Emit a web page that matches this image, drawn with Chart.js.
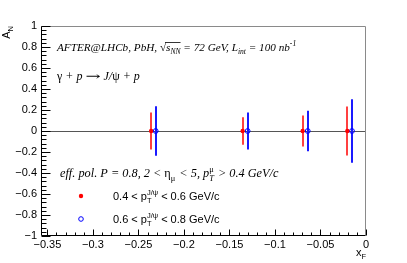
<!DOCTYPE html>
<html>
<head>
<meta charset="utf-8">
<script src="https://cdn.jsdelivr.net/npm/chart.js@4/dist/chart.umd.min.js"></script>
<style>
html,body{margin:0;padding:0;background:#fff;}
canvas{display:block;}
</style>
</head>
<body>
<canvas id="c" width="407" height="263"></canvas>
<script>
// ---- data ----
const xRed = [-0.236, -0.1355, -0.0696, -0.0205];
const yRed = [0, 0, 0, 0];
const errRed = [0.176, 0.130, 0.147, 0.234];
const xBlue = [-0.231, -0.130, -0.064, -0.0154];
const yBlue = [0, 0, 0, 0];
const errBlue = [0.235, 0.176, 0.192, 0.302];
const xTicks = [-0.35, -0.3, -0.25, -0.2, -0.15, -0.1, -0.05, 0];
const yTicks = [-1, -0.8, -0.6, -0.4, -0.2, 0, 0.2, 0.4, 0.6, 0.8, 1];
const xRange = [-0.357, 0];
const yRange = [-1, 1];
const seriesLabels = ['0.4 < p_T^J/ψ < 0.6 GeV/c', '0.6 < p_T^J/ψ < 0.8 GeV/c'];

function fmt(v){
  const s = String(Number(v.toFixed(3)));
  return s.replace('-', '\u2212');
}

const SERIF = '"Liberation Serif", "DejaVu Serif", serif';
const SANS = '"Liberation Sans", Arial, sans-serif';

// rich text: parts {t, s:'sub'|'sup'|'' , it:bool, stack:bool, f:family, gap:px, sx:hscale}
function drawRich(ctx, x, y, parts, size, family, defItalic){
  let cx = x;
  let stackW = 0;
  const pos = [];
  for (const p of parts){
    const sz = (p.sz || (p.s ? size*0.68 : size));
    const it = (p.it === undefined) ? defItalic : p.it;
    ctx.font = (it ? 'italic ' : '') + sz + 'px ' + (p.f || family);
    const dy = (p.dy !== undefined ? p.dy : 0) + (p.s === 'sub' ? size*0.3 : (p.s === 'sup' ? -size*0.42 : 0));
    if (p.pre) cx += p.pre;
    const sx = p.sx || 1;
    ctx.save();
    ctx.translate(cx, y + dy);
    ctx.scale(sx, 1);
    ctx.fillText(p.t, 0, 0);
    ctx.restore();
    const w = ctx.measureText(p.t).width * sx;
    pos.push({x0: cx, x1: cx + w});
    if (p.stack){ stackW = Math.max(stackW, w); }
    else { cx += Math.max(w, stackW) + (p.gap || 0); stackW = 0; }
  }
  return pos;
}

const decor = {
  id: 'decor',
  beforeDraw(chart){
    const ctx = chart.ctx;
    ctx.save();
    ctx.fillStyle = '#fff';
    ctx.fillRect(0,0,chart.width,chart.height);
    ctx.restore();
  },
  beforeDatasetsDraw(chart){
    const ctx = chart.ctx, xs = chart.scales.x, ys = chart.scales.y, a = chart.chartArea;
    ctx.save();
    const y0 = Math.round(ys.getPixelForValue(0)) + 0.5;
    ctx.strokeStyle = '#555';
    ctx.lineWidth = 1;
    ctx.beginPath(); ctx.moveTo(a.left, y0); ctx.lineTo(a.right, y0); ctx.stroke();
    const bars = (xv, yv, ev, col) => {
      ctx.strokeStyle = col; ctx.lineWidth = 2;
      for (let i=0;i<xv.length;i++){
        const px = Math.round(xs.getPixelForValue(xv[i]));
        ctx.beginPath();
        ctx.moveTo(px, ys.getPixelForValue(yv[i]+ev[i]));
        ctx.lineTo(px, ys.getPixelForValue(yv[i]-ev[i]));
        ctx.stroke();
      }
    };
    bars(xRed, yRed, errRed, 'rgba(255,30,30,0.85)');
    bars(xBlue, yBlue, errBlue, '#1a1aff');
    ctx.restore();
  },
  afterDraw(chart){
    const ctx = chart.ctx, xs = chart.scales.x, ys = chart.scales.y, a = chart.chartArea;
    ctx.save();
    const L = a.left + 0.5, R = a.right - 0.5, T = a.top + 0.5, B = a.bottom - 0.5;
    ctx.lineWidth = 1;
    ctx.strokeStyle = '#8a8a8a';
    ctx.beginPath(); ctx.moveTo(L, T); ctx.lineTo(R, T); ctx.lineTo(R, B); ctx.stroke();
    ctx.strokeStyle = '#000';
    ctx.beginPath(); ctx.moveTo(L, T); ctx.lineTo(L, B); ctx.lineTo(R, B); ctx.stroke();
    ctx.beginPath();
    for (let i=0;i<yTicks.length;i++){
      const py = Math.round(ys.getPixelForValue(yTicks[i])) + 0.5;
      ctx.moveTo(L, py); ctx.lineTo(L + 9, py);
      if (i < yTicks.length-1){
        const st = (yTicks[i+1]-yTicks[i])/5;
        for (let k=1;k<5;k++){
          const my = Math.round(ys.getPixelForValue(yTicks[i]+k*st)) + 0.5;
          ctx.moveTo(L, my); ctx.lineTo(L + 5, my);
        }
      }
    }
    for (let i=0;i<xTicks.length;i++){
      const px = Math.round(xs.getPixelForValue(xTicks[i])) + 0.5;
      ctx.moveTo(px, B); ctx.lineTo(px, B - 6);
      if (i < xTicks.length-1){
        const st = (xTicks[i+1]-xTicks[i])/5;
        for (let k=1;k<5;k++){
          const mx = Math.round(xs.getPixelForValue(xTicks[i]+k*st)) + 0.5;
          ctx.moveTo(mx, B); ctx.lineTo(mx, B - 3);
        }
      }
    }
    ctx.stroke();

    // axis titles
    ctx.fillStyle = '#000';
    ctx.textBaseline = 'alphabetic';
    ctx.save();
    ctx.translate(10, 26);
    ctx.rotate(-Math.PI/2);
    ctx.textAlign = 'left';
    ctx.font = '7.5px ' + SANS;
    const wN = ctx.measureText('N').width;
    ctx.font = '11px ' + SANS;
    const wA = ctx.measureText('A').width;
    drawRich(ctx, -(wA + wN), 0, [{t:'A'},{t:'N', s:'sub'}], 11, SANS, false);
    ctx.restore();
    {
      ctx.font = '11px ' + SANS;
      const wx = ctx.measureText('x').width;
      ctx.font = '7.5px ' + SANS;
      const wF = ctx.measureText('F').width;
      drawRich(ctx, a.right - wx - wF, 256, [{t:'x'},{t:'F', s:'sub'}], 11, SANS, false);
    }

    // annotations (serif italic)
    const p1 = drawRich(ctx, 57, 51, [
      {t:'AFTER@LHCb, PbH, '},
      {t:'\u221A', it:false},
      {t:'s'},
      {t:'NN', s:'sub'},
      {t:' = 72 GeV, L'},
      {t:'int', s:'sub'},
      {t:' = 100 nb'},
      {t:'-1', s:'sup'}
    ], 11.2, SERIF, true);
    ctx.strokeStyle = '#000'; ctx.lineWidth = 0.8;
    ctx.beginPath(); ctx.moveTo(p1[1].x1 - 1, 42.5); ctx.lineTo(p1[3].x1, 42.5); ctx.stroke();

    drawRich(ctx, 57, 80, [
      {t:'\u03B3', it:false},
      {t:' + p '},
      {t:'\u2192', it:false, f:'"DejaVu Serif"', sz:12, sx:1.5, dy:-0.5},
      {t:' J/'},
      {t:'\u03C8', it:false},
      {t:' + p'}
    ], 12, SERIF, true);

    drawRich(ctx, 60, 177, [
      {t:'eff. pol. P = 0.8, 2 < '},
      {t:'\u03B7', it:false},
      {t:'\u03BC', s:'sub', it:false, gap:1},
      {t:' < 5, p'},
      {t:'\u03BC', s:'sup', it:false, stack:true},
      {t:'T', s:'sub', gap:1},
      {t:' > 0.4 GeV/c'}
    ], 12.3, SERIF, true);

    // legend
    const legY = [196, 219];
    const ranges = [['0.4','0.6'],['0.6','0.8']];
    for (let i=0;i<2;i++){
      ctx.beginPath();
      if (i===0){
        ctx.fillStyle = 'red';
        ctx.arc(81, legY[i], 2.2, 0, Math.PI*2); ctx.fill();
      } else {
        ctx.strokeStyle = 'blue'; ctx.lineWidth = 1;
        ctx.arc(81, legY[i], 2.3, 0, Math.PI*2); ctx.stroke();
      }
      ctx.fillStyle = '#000';
      drawRich(ctx, 113, legY[i] + 4, [
        {t: ranges[i][0] + ' < p'},
        {t:'J/\u03C8', s:'sup', stack:true},
        {t:'T', s:'sub'},
        {t:' < ' + ranges[i][1] + ' GeV/c'}
      ], 11, SANS, false);
    }
    ctx.restore();
  }
};

const chart = new Chart(document.getElementById('c'), {
  type: 'scatter',
  data: {
    datasets: [
      { label: seriesLabels[0], data: xRed.map((x,i)=>({x, y:yRed[i]})),
        pointRadius: 2.2, pointBackgroundColor: 'red', pointBorderColor: 'red', pointBorderWidth: 0, showLine:false },
      { label: seriesLabels[1], data: xBlue.map((x,i)=>({x, y:yBlue[i]})),
        pointRadius: 2.4, pointBackgroundColor: 'rgba(0,0,0,0)', pointBorderColor: 'blue', pointBorderWidth: 1, showLine:false }
    ]
  },
  options: {
    responsive: false,
    animation: false,
    devicePixelRatio: 1,
    layout: { padding: { left: 0, top: 26, right: 41, bottom: 0 } },
    plugins: { legend: { display: false }, tooltip: { enabled: false } },
    scales: {
      x: {
        type: 'linear', min: xRange[0], max: xRange[1],
        afterFit(s){ s.height = 27; },
        afterBuildTicks(s){ s.ticks = xTicks.map(v=>({value:v})); },
        grid: { display: false, drawTicks: false },
        border: { display: false },
        ticks: { autoSkip: false, maxRotation: 0, padding: 2, color: '#000',
          font: { family: 'Liberation Sans', size: 11 }, callback: v => fmt(v) }
      },
      y: {
        type: 'linear', min: yRange[0], max: yRange[1],
        afterFit(s){ s.width = 41; },
        afterBuildTicks(s){ s.ticks = yTicks.map(v=>({value:v})); },
        grid: { display: false, drawTicks: false },
        border: { display: false },
        ticks: { autoSkip: false, padding: 4, color: '#000',
          font: { family: 'Liberation Sans', size: 11 }, callback: v => fmt(v) }
      }
    }
  },
  plugins: [decor]
});
</script>
</body>
</html>
